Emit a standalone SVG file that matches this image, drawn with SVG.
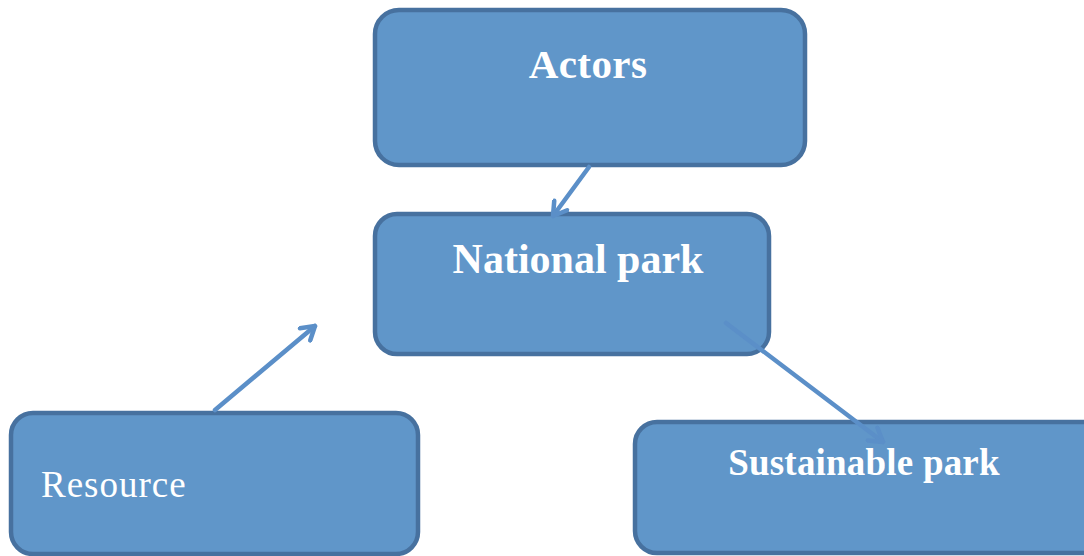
<svg xmlns="http://www.w3.org/2000/svg" width="1084" height="556" viewBox="0 0 1084 556">
<defs>
<style>
.box{fill:#6096c9;stroke:#47719f;stroke-width:4.5}
.bt{font-family:"Liberation Serif","Times New Roman",serif;font-weight:bold;fill:#ffffff;text-anchor:middle}
.rt{font-family:"Liberation Serif","Times New Roman",serif;fill:#ffffff}
.con{stroke:#5b8fc8;stroke-width:4.5;fill:none;stroke-linecap:round}
</style>
<marker id="arr" viewBox="-16 -10 18 20" refX="0" refY="0" markerWidth="18" markerHeight="20" markerUnits="userSpaceOnUse" orient="auto">
<polyline points="-13,-8 0,0 -13,8" fill="none" stroke="#5b8fc8" stroke-width="4.5" stroke-linecap="round" stroke-linejoin="round"/>
</marker>
</defs>
<rect width="1084" height="556" fill="#ffffff"/>
<g id="actors">
<rect class="box" x="375" y="10" width="430" height="155" rx="24"/>
<text class="bt" x="588" y="78" font-size="41" letter-spacing="0.4">Actors</text>
</g>
<g id="national-park">
<rect class="box" x="375" y="214" width="394" height="140" rx="22"/>
<text class="bt" x="578" y="273" font-size="42">National park</text>
</g>
<g id="resource">
<rect class="box" x="11" y="413" width="407" height="141" rx="22"/>
<text class="rt" x="41" y="497" font-size="37" letter-spacing="1">Resource</text>
</g>
<g id="sustainable-park">
<rect class="box" x="635" y="422" width="470" height="131" rx="22"/>
<text class="bt" x="864" y="475" font-size="37" letter-spacing="0.2">Sustainable park</text>
</g>
<g id="connectors">
<line class="con" x1="589" y1="167" x2="553" y2="216" marker-end="url(#arr)"/>
<line class="con" x1="215" y1="410" x2="315" y2="326" marker-end="url(#arr)"/>
<line class="con" x1="726" y1="323" x2="883" y2="442" marker-end="url(#arr)"/>
</g>
</svg>
